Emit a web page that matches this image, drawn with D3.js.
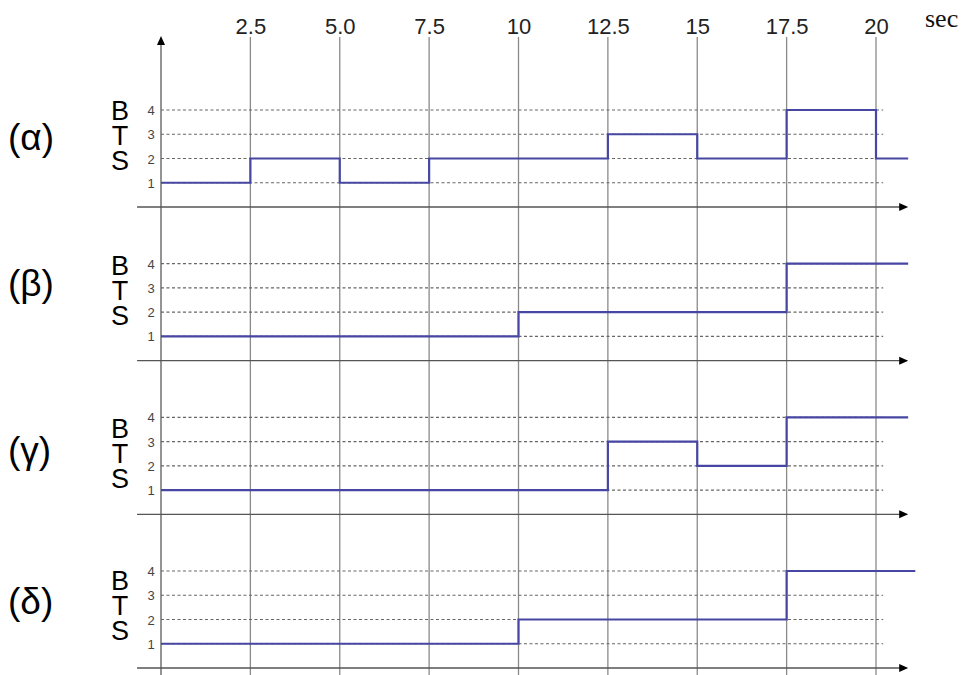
<!DOCTYPE html>
<html>
<head>
<meta charset="utf-8">
<script src="https://cdn.jsdelivr.net/npm/d3@7"></script>
<style>
  body { margin: 0; background: #fff; }
  svg { display: block; }
</style>
</head>
<body>
<div id="chart"></div>
<script>
// time ticks along the top (sec)
const tickValues = [2.5, 5, 7.5, 10, 12.5, 15, 17.5, 20];
const tickLabels = ["2.5", "5.0", "7.5", "10", "12.5", "15", "17.5", "20"];
const levels = [1, 2, 3, 4];
const panelNames = ["(α)", "(β)", "(γ)", "(δ)"];

// step series: change times and the BTS level from that time on
const alphaTimes = [0, 2.5, 5, 7.5, 12.5, 15, 17.5, 20, 20.9];
const alphaLevels = [1, 2, 1, 2, 3, 2, 4, 2, 2];
const betaTimes = [0, 10, 17.5, 20.9];
const betaLevels = [1, 2, 4, 4];
const gammaTimes = [0, 12.5, 15, 17.5, 20.9];
const gammaLevels = [1, 3, 2, 4, 4];
const deltaTimes = [0, 10, 17.5, 21.1];
const deltaLevels = [1, 2, 4, 4];

const series = [
  [alphaTimes, alphaLevels],
  [betaTimes, betaLevels],
  [gammaTimes, gammaLevels],
  [deltaTimes, deltaLevels]
];

const width = 966, height = 675;
const x = d3.scaleLinear().domain([0, 20]).range([161, 876]);
const panelBase = d3.scaleLinear().domain([0, 3]).range([207, 668]);
const gridEnd = 20.2, axisStart = -0.67, axisEnd = 20.9;

// label nudges per panel (the source figure is not perfectly regular)
const nameShift = [-57, -65, -51, -54];
const btsShift = [-111, -110, -100, -102];

const svg = d3.select('#chart').append('svg')
  .attr('width', width)
  .attr('height', height);

// vertical gridlines
svg.append('g').selectAll('line')
  .data(tickValues)
  .enter().append('line')
  .attr('x1', d => x(d)).attr('x2', d => x(d))
  .attr('y1', 37).attr('y2', height)
  .attr('stroke', '#8a8a8a')
  .attr('stroke-width', 1.3);

// top tick labels
const topAxis = svg.append('g')
  .attr('transform', 'translate(0,34)')
  .call(d3.axisTop(x).tickValues(tickValues)
    .tickFormat((d, i) => tickLabels[i])
    .tickSize(0).tickPadding(0));
topAxis.select('.domain').remove();
topAxis.selectAll('text')
  .attr('font-family', 'Liberation Sans, Arial, sans-serif')
  .attr('font-size', 22)
  .attr('fill', '#222');

svg.append('text')
  .attr('x', 925).attr('y', 27)
  .attr('font-family', 'Liberation Serif, Times New Roman, serif')
  .attr('font-size', 26)
  .attr('fill', '#111')
  .text('sec');

// y axis with arrow
svg.append('line')
  .attr('x1', x(0)).attr('x2', x(0))
  .attr('y1', 42).attr('y2', height)
  .attr('stroke', '#707070')
  .attr('stroke-width', 1.5);
svg.append('path')
  .attr('d', `M${x(0)} 36 L${x(0) + 4} 45 L${x(0) - 4} 45Z`)
  .attr('fill', '#000');

const line = d3.line()
  .x(d => x(d[0]))
  .y(d => d[1])
  .curve(d3.curveStepAfter);

series.forEach(([times, vals], p) => {
  const base = panelBase(p);
  const y = d3.scaleLinear().domain([0, 4]).range([base, base - 97]);
  const g = svg.append('g').attr('class', 'panel');

  // dashed level lines
  g.selectAll('line.level')
    .data(levels)
    .enter().append('line')
    .attr('class', 'level')
    .attr('x1', x(0)).attr('x2', x(gridEnd))
    .attr('y1', d => y(d)).attr('y2', d => y(d))
    .attr('stroke', '#666')
    .attr('stroke-width', 1.2)
    .attr('stroke-dasharray', '3,2.5');

  g.selectAll('text.lvl')
    .data(levels)
    .enter().append('text')
    .attr('class', 'lvl')
    .attr('x', 151)
    .attr('y', d => y(d) + 5)
    .attr('text-anchor', 'middle')
    .attr('font-family', 'Liberation Sans, Arial, sans-serif')
    .attr('font-size', 13)
    .attr('fill', '#444')
    .text(d => d);

  // time axis with arrow
  g.append('line')
    .attr('x1', x(axisStart)).attr('x2', x(axisEnd) - 6)
    .attr('y1', base).attr('y2', base)
    .attr('stroke', '#555')
    .attr('stroke-width', 1.3);
  g.append('path')
    .attr('d', `M${x(axisEnd)} ${base} L${x(axisEnd) - 9} ${base - 4} L${x(axisEnd) - 9} ${base + 4}Z`)
    .attr('fill', '#000');

  // step line
  g.append('path')
    .datum(times.map((t, i) => [t, y(vals[i])]))
    .attr('d', line)
    .attr('fill', 'none')
    .attr('stroke', '#4747a3')
    .attr('stroke-width', 2.2);

  // BTS stacked label, written vertically as one text
  g.append('text')
    .attr('x', 120)
    .attr('y', base + btsShift[p])
    .style('writing-mode', 'vertical-lr')
    .style('text-orientation', 'upright')
    .style('letter-spacing', '-5px')
    .attr('text-anchor', 'start')
    .attr('font-family', 'Liberation Sans, Arial, sans-serif')
    .attr('font-size', 27)
    .attr('fill', '#000')
    .text('BTS');

  g.append('text')
    .attr('x', 8)
    .attr('y', base + nameShift[p])
    .attr('font-family', 'Liberation Sans, Arial, sans-serif')
    .attr('font-size', 37)
    .attr('fill', '#000')
    .text(panelNames[p]);
});
</script>
</body>
</html>
